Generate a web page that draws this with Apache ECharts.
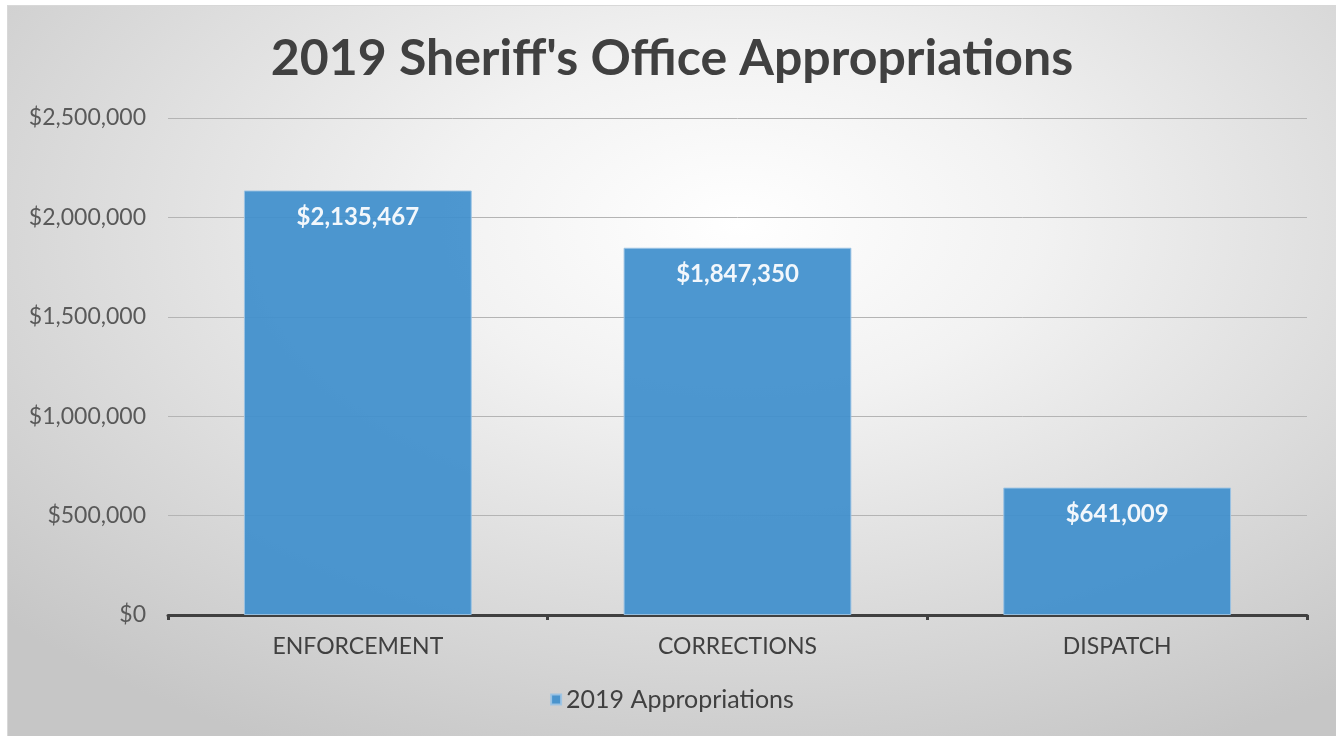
<!DOCTYPE html>
<html>
<head>
<meta charset="utf-8">
<script src="https://cdn.jsdelivr.net/npm/echarts@6/dist/echarts.min.js"></script>
<style>
  html, body { margin: 0; padding: 0; background: #fff; }
  #main {
    position: absolute; left: 7px; top: 5px; width: 1329px; height: 731px;
    border-top: 1px solid #d8d8d8; border-left: 1px solid #d8d8d8;
    box-sizing: border-box;
    background: radial-gradient(ellipse 75% 80% at 55% 30%, #ffffff 0%, #f2f2f2 30%, #c6c6c6 100%);
  }
</style>
</head>
<body>
<div id="main"></div>
<script>
const categories = ["ENFORCEMENT", "CORRECTIONS", "DISPATCH"];
const appropriations = [2135467, 1847350, 641009];
const seriesName = "2019 Appropriations";

function money(v) {
  return "$" + Math.round(v).toString().replace(/\B(?=(\d{3})+(?!\d))/g, ",");
}

let myChart = echarts.init(document.getElementById("main"));
myChart.setOption({
  backgroundColor: "transparent",
  title: {
    text: "2019 Sheriff's Office Appropriations",
    left: "center",
    top: 23,
    textStyle: { fontFamily: "Lato", fontWeight: "bold", fontSize: 50, color: "#404040" }
  },
  legend: {
    data: [seriesName],
    bottom: 19,
    left: "center",
    itemWidth: 10,
    itemHeight: 10,
    itemGap: 8,
    icon: "rect",
    textStyle: { fontFamily: "Lato", fontSize: 25, color: "#404040" }
  },
  grid: { left: 160, right: 29, top: 112, bottom: 121 },
  xAxis: [{
    type: "category",
    data: categories,
    axisLine: { lineStyle: { color: "#404040", width: 3 } },
    axisTick: { show: true, length: 5, lineStyle: { color: "#404040", width: 3 } },
    axisLabel: { fontFamily: "Lato", fontSize: 23, color: "#404040", margin: 20 }
  }],
  yAxis: [{
    type: "value",
    min: 0,
    max: 2500000,
    interval: 500000,
    axisLine: { show: false },
    axisTick: { show: false },
    axisLabel: { fontFamily: "Lato", fontSize: 23, color: "#595959", margin: 22, formatter: money },
    splitLine: { lineStyle: { color: "#b4b4b4", width: 1 } }
  }],
  series: [{
    name: seriesName,
    type: "bar",
    barWidth: "60%",
    data: appropriations,
    itemStyle: { color: "#3f8fcc", opacity: 0.93, borderColor: "#9cc4e4", borderWidth: 1 },
    label: {
      show: true,
      position: "insideTop",
      distance: 15,
      formatter: p => money(p.value),
      fontFamily: "Lato",
      fontWeight: "bold",
      fontSize: 24,
      color: "#ffffff"
    }
  }]
});
</script>
</body>
</html>
